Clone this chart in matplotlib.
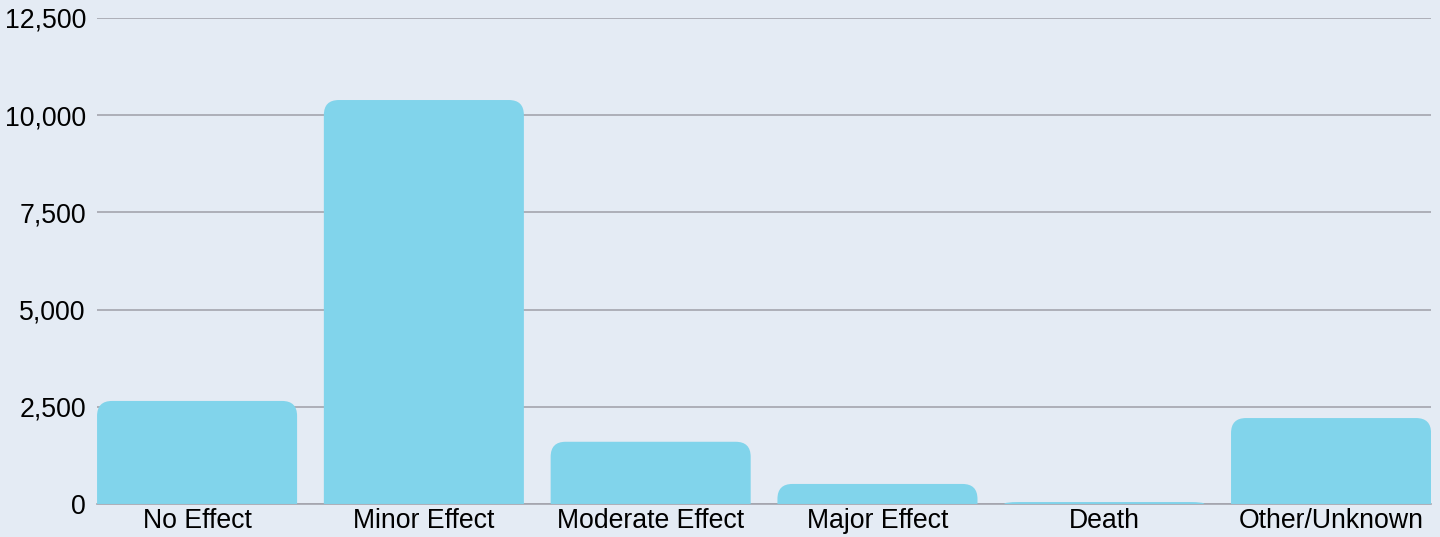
import matplotlib.pyplot as plt
from matplotlib.path import Path
from matplotlib.patches import PathPatch
from matplotlib.ticker import FuncFormatter

# ── Data ─────────────────────────────────────────────────────────────────────
categories = ['No Effect', 'Minor Effect', 'Moderate Effect', 'Major Effect',
              'Death', 'Other/Unknown']
counts = [2650, 10390, 1600, 515, 50, 2210]
y_ticks = [0, 2500, 5000, 7500, 10000, 12500]

BG = '#e4ebf4'
BAR = '#81d4eb'
GRID = '#a4a5ae'

plt.rcParams['font.family'] = ['Liberation Sans', 'DejaVu Sans']

fig = plt.figure(figsize=(14.4, 5.37), dpi=100, facecolor=BG)
ax = fig.add_axes([0.0674, 0.0615, 0.9264, 0.905], facecolor=BG)

x = list(range(len(categories)))
bw = 0.882
bars = ax.bar(x, counts, width=bw, color=BAR, alpha=0)
ax.set_xlim(-bw / 2, len(categories) - 1 + bw / 2)
ax.set_ylim(0, 12500)

# rounded tops: radius ~15 px converted into data units
fig.canvas.draw()
px_x = ax.transData.transform((1, 0))[0] - ax.transData.transform((0, 0))[0]
px_y = ax.transData.transform((0, 1))[1] - ax.transData.transform((0, 0))[1]
r_px = 15
for b in bars:
    x0, w, h = b.get_x(), b.get_width(), b.get_height()
    rx = r_px / px_x
    ry = min(r_px / px_y, h)
    verts = [(x0, 0), (x0, h - ry), (x0, h), (x0 + rx, h),
             (x0 + w - rx, h), (x0 + w, h), (x0 + w, h - ry),
             (x0 + w, 0), (x0, 0)]
    codes = [Path.MOVETO, Path.LINETO, Path.CURVE3, Path.CURVE3,
             Path.LINETO, Path.CURVE3, Path.CURVE3,
             Path.LINETO, Path.CLOSEPOLY]
    ax.add_patch(PathPatch(Path(verts, codes), facecolor=BAR,
                           edgecolor='none', zorder=3))

ax.set_yticks(y_ticks)
ax.yaxis.set_major_formatter(FuncFormatter(lambda v, p: f'{int(v):,}'))
ax.set_xticks(x)
ax.set_xticklabels(categories)
ax.tick_params(axis='both', length=0, labelsize=19.2, colors='black')
ax.tick_params(axis='y', pad=8)
ax.tick_params(axis='x', pad=3)

ax.grid(axis='y', color=GRID, linewidth=1.2, zorder=0)
ax.set_axisbelow(True)
for s in ['top', 'right', 'left']:
    ax.spines[s].set_visible(False)
ax.spines['bottom'].set_color(GRID)
ax.spines['bottom'].set_linewidth(1.2)

fig.savefig('out.png', dpi=100, facecolor=BG)
